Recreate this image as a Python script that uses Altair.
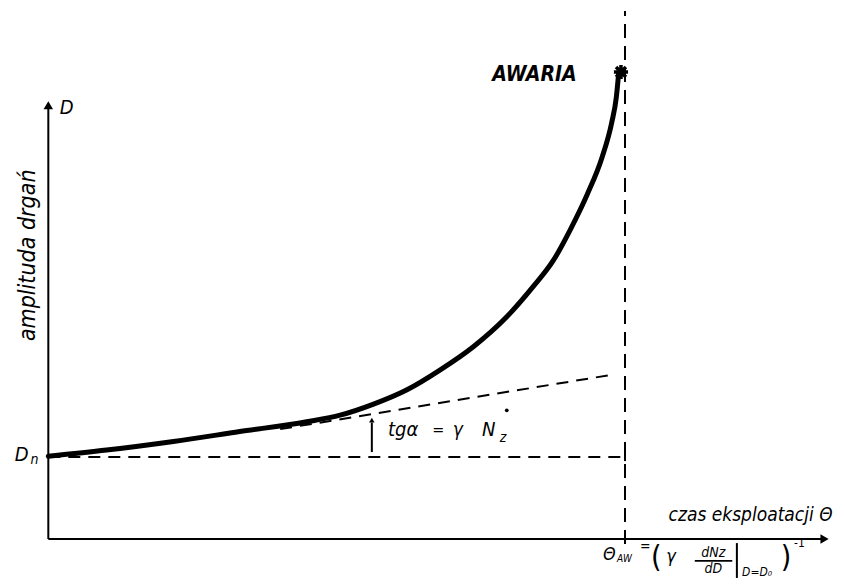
import altair as alt
import pandas as pd

# ---- data (time Θ in units where Θ_AW = 100, amplitude D in units where D_n = 10)
curve_t = [0, 10.1, 21.7, 33.2, 44.8, 50.6, 56.4, 62.2, 67.9, 73.7, 79.5, 84.1, 87.6, 90.5, 93.5, 96.0, 97.7, 98.5, 98.9]
curve_d = [10.1, 10.85, 11.9, 13.1, 14.3, 15.1, 16.45, 18.2, 20.6, 23.45, 27.1, 30.8, 34.0, 37.7, 42.1, 46.5, 50.8, 53.9, 56.8]
tangent_t = [40.2, 97.9]
tangent_d = [13.4, 20.05]
D_n = 10
theta_aw = 100
failure_t = [99.3]
failure_d = [56.95]

FONT = "DejaVu Sans Condensed"
xs = alt.Scale(domain=[-6.99, 136.76], nice=False, zero=False)
ys = alt.Scale(domain=[-4.88, 64.76], nice=False, zero=False)


def X(f="t"):
    return alt.X(f"{f}:Q", scale=xs, axis=None)


def Y(f="d"):
    return alt.Y(f"{f}:Q", scale=ys, axis=None)


def seg(t1, d1, t2, d2, dash=None, width=2):
    df = pd.DataFrame({"t": [t1], "d": [d1], "t2": [t2], "d2": [d2]})
    kw = dict(color="black", strokeWidth=width)
    if dash:
        kw["strokeDash"] = dash
    return alt.Chart(df).mark_rule(**kw).encode(
        x=X(), y=Y(), x2="t2:Q", y2="d2:Q")


def txt(t, d, s, size=18, weight="normal", style="italic", align="left", angle=0):
    df = pd.DataFrame({"t": [t], "d": [d], "s": [s]})
    kw = dict(font=FONT, fontSize=size, fontWeight=weight, fontStyle=style,
              align=align, baseline="middle", color="black")
    if angle:
        kw["angle"] = angle
    return alt.Chart(df).mark_text(**kw).encode(x=X(), y=Y(), text="s:N")


def dot(t, d, shape, size, filled=True):
    df = pd.DataFrame({"t": [t], "d": [d]})
    return alt.Chart(df).mark_point(shape=shape, size=size, filled=filled,
                                    color="black", opacity=1).encode(x=X(), y=Y())


curve = alt.Chart(pd.DataFrame({"t": curve_t, "d": curve_d})).mark_line(
    color="black", strokeWidth=5, interpolate="monotone", strokeCap="round"
).encode(x=X(), y=Y())

tangent = alt.Chart(pd.DataFrame({"t": tangent_t, "d": tangent_d})).mark_line(
    color="black", strokeWidth=2, strokeDash=[12, 8]
).encode(x=X(), y=Y())

star = alt.Chart(pd.DataFrame({"t": failure_t, "d": failure_d})).mark_point(
    shape="M-1,0L1,0M0,-1L0,1M-0.7,-0.7L0.7,0.7M-0.7,0.7L0.7,-0.7",
    size=200, strokeWidth=3.5, color="black", opacity=1
).encode(x=X(), y=Y())

layers = [
    # axes
    seg(0, 0, 134.3, 0, width=2),
    seg(0, 0, 0, 53.0, width=2),
    dot(134.6, 0, "triangle-right", 90),
    dot(0, 52.9, "triangle-up", 90),
    # reference lines
    seg(0, D_n, theta_aw, D_n, dash=[12, 8]),
    seg(theta_aw, -0.6, theta_aw, 64.4, dash=[14, 8]),
    seg(theta_aw, D_n - 0.5, theta_aw, D_n + 0.5, width=2),
    tangent,
    curve,
    star,
    # angle arrow
    seg(56.1, 10.6, 56.1, 14.2, width=2),
    dot(56.1, 14.5, "triangle-up", 30),
    # axis labels
    txt(2.0, 52.6, "D", size=20),
    txt(-5.8, 10.2, "D", size=20),
    txt(-3.1, 9.6, "n", size=14),
    txt(-3.6, 34.6, "amplituda drgań", size=23, angle=270, align="center"),
    txt(84.3, 56.6, "AWARIA", size=21, weight="bold", align="center"),
    txt(136.0, 2.95, "czas eksploatacji Θ", size=19, align="right"),
    # tangent slope label
    txt(58.9, 13.3, "tgα", size=20),
    txt(67.6, 13.3, "=", size=16, align="center"),
    txt(71.0, 13.3, "γ", size=19, align="center"),
    txt(75.2, 13.3, "N", size=20),
    txt(78.3, 12.3, "z", size=14),
    dot(79.5, 15.7, "circle", 14),
    # formula for Θ_AW
    txt(96.2, -1.95, "Θ", size=18),
    txt(98.6, -2.45, "AW", size=10),
    txt(103.5, -1.0, "=", size=14, align="center"),
    txt(105.4, -2.3, "(", size=30, style="normal", align="center"),
    txt(108.0, -2.2, "γ", size=18, align="center"),
    txt(115.3, -1.7, "dNz", size=14, align="center"),
    seg(112.1, -2.68, 118.6, -2.68, width=1.8),
    txt(115.3, -3.66, "dD", size=14, align="center"),
    seg(119.4, -0.5, 119.4, -4.75, width=2),
    txt(120.3, -4.0, "D=D₀", size=12),
    txt(127.9, -2.3, ")", size=30, style="normal", align="center"),
    txt(129.3, -0.5, "-1", size=12, style="normal"),
]

chart = alt.layer(*layers).properties(
    width=829, height=571,
    autosize=alt.AutoSizeParams(type="none"), padding=0,
    background="white",
).configure_view(stroke=None)

chart.save("out.html", embed_options={"renderer": "svg", "actions": False})
